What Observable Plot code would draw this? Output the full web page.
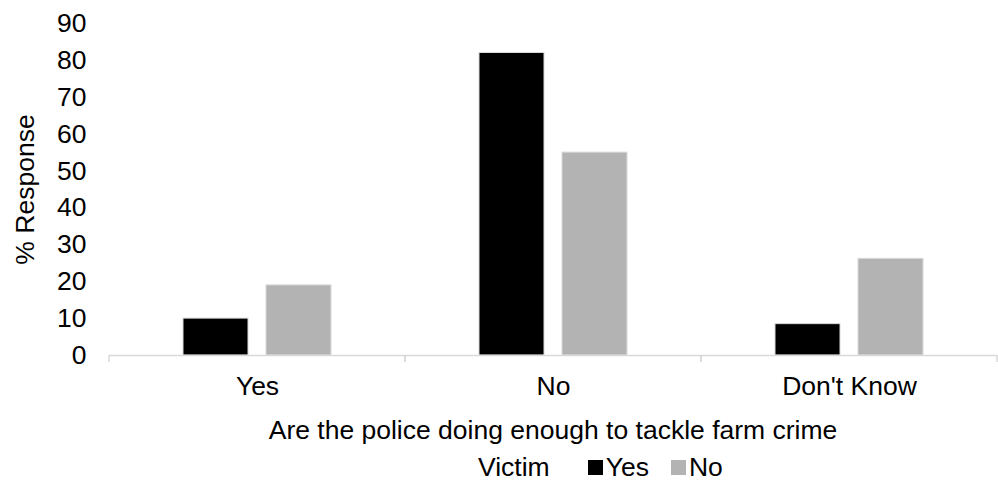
<!DOCTYPE html>
<html>
<head>
<meta charset="utf-8">
<script src="https://cdn.jsdelivr.net/npm/d3@7"></script>
<script src="https://cdn.jsdelivr.net/npm/@observablehq/plot@0.6"></script>
<style>
  html, body { margin: 0; padding: 0; background: #fff; }
  body { width: 998px; height: 483px; overflow: hidden; font-family: "Liberation Sans", Arial, sans-serif; color: #000; }
  #chart svg { display: block; }
  #xtitle { width: 890px; padding-left: 108px; text-align: center; font-size: 26.5px; line-height: 30px; margin-top: 7px; }
  #legend { display: flex; align-items: center; padding-left: 478px; font-size: 26.5px; line-height: 30px; height: 30px; margin-top: 7px; }
  #legend .sw { width: 15px; height: 15px; display: inline-block; margin-right: 3px; }
</style>
</head>
<body>
<div id="chart"></div>
<div id="xtitle"></div>
<div id="legend"></div>
<script>
// ---- data ----
const categories = ["Yes", "No", "Don't Know"];
const victimGroups = ["Yes", "No"];
const victimYes = [10, 82, 8.5];
const victimNo = [19, 55, 26.2];
const yTicks = [0, 10, 20, 30, 40, 50, 60, 70, 80, 90];
const xTitle = "Are the police doing enough to tackle farm crime";
const yTitle = "% Response";
const legendTitle = "Victim";
const colors = ["#000000", "#b3b3b3"];

const rows = [];
categories.forEach((c, i) => {
  rows.push({category: c, victim: "Yes", value: victimYes[i]});
  rows.push({category: c, victim: "No", value: victimNo[i]});
});

// tick marks at the category band edges
function edgeTicks(index, scales, values, dims) {
  const x = scales && scales.x;
  const y = scales && scales.y;
  if (!x || !y || !x.range) return null;
  const [x0, x1] = x.range();
  const y0 = y(0);
  const g = d3.create("svg:g").attr("stroke", "#d9d9d9").attr("stroke-width", 1.5);
  [x0, x1].forEach(px => g.append("line").attr("x1", px).attr("x2", px).attr("y1", y0).attr("y2", y0 + 7));
  return g.node();
}

const chart = Plot.plot({
  width: 998,
  height: 408,
  marginTop: 23,
  marginBottom: 53,
  marginLeft: 108,
  marginRight: 0,
  style: {fontSize: "26.5px", fontFamily: "Liberation Sans, Arial, sans-serif", color: "#000", background: "#fff"},
  facet: {data: rows, x: "category"},
  fx: {domain: categories, padding: 0, label: null, tickSize: 0, tickPadding: 21},
  x: {domain: victimGroups, paddingInner: 0.214, paddingOuter: 0.881, axis: null},
  y: {domain: [0, 90], ticks: yTicks, tickSize: 0, tickPadding: 23, label: yTitle, labelArrow: "none", labelAnchor: "center", labelOffset: 94},
  color: {domain: victimGroups, range: colors},
  marks: [
    Plot.barY(rows, {x: "victim", y: "value", fill: "victim", stroke: "#d9d9d9", strokeWidth: 1}),
    Plot.ruleY([0], {stroke: "#d9d9d9", strokeWidth: 1.5}),
    edgeTicks
  ]
});
document.getElementById("chart").appendChild(chart);

document.getElementById("xtitle").textContent = xTitle;

const legend = d3.select("#legend");
legend.append("span").text(legendTitle).style("margin-right", "38px");
victimGroups.forEach((v, i) => {
  legend.append("span").attr("class", "sw").style("background", colors[i]);
  legend.append("span").text(v).style("margin-right", i === 0 ? "22px" : "0");
});
</script>
</body>
</html>
